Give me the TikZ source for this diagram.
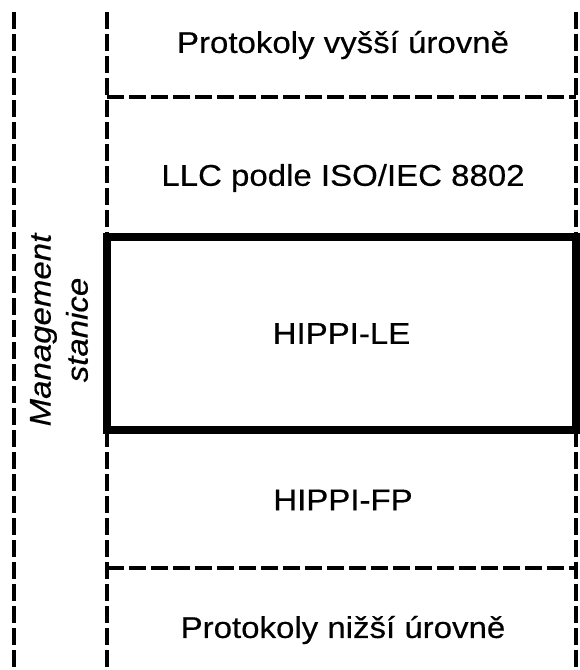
\documentclass[tikz,border=0pt]{standalone}
\usepackage{fontspec}
\setmainfont{Liberation Sans}[FakeStretch=1.1, FakeBold=0.4]
\usetikzlibrary{positioning}

\begin{document}
\begin{tikzpicture}[x=0.5pt, y=-0.5pt,
    layer/.style={align=center, font=\fontsize{15}{18}\selectfont},
    cut/.style={line width=1.8pt, dash pattern=on 8.5pt off 2.5pt},
    mainbox/.style={draw, line width=4pt, minimum width=234.5pt, minimum height=96.5pt}]

    \useasboundingbox (0,0) rectangle (579,670);

    % --- svisle hranice ---
    \draw[cut] (14,12) -- (14,670);
    \draw[cut] (107,12) -- (107,670);
    \draw[cut] (576,12) -- (576,670);

    % --- rozhrani mezi vrstvami ---
    \draw[cut] (107,97) -- (576,97);
    \draw[cut] (107,568) -- (576,568);

    % --- vrstvy ---
    \node[layer] (vyssi) at (343,45) {Protokoly vyšší úrovně};
    \node[layer] (llc) at (343,178) {LLC podle ISO/IEC 8802};
    \node[layer, mainbox, fill=white] (le) at (341.5,333.5) {HIPPI-LE};
    \node[layer] (fp) at (343,500) {HIPPI-FP};
    \node[layer] (nizsi) at (343,630) {Protokoly nižší úrovně};

    % management po strane
    \node[layer, rotate=90, font=\fontsize{15}{18.5}\selectfont\itshape] (mgmt) at (59,330) {Management\\stanice};

\end{tikzpicture}
\end{document}
